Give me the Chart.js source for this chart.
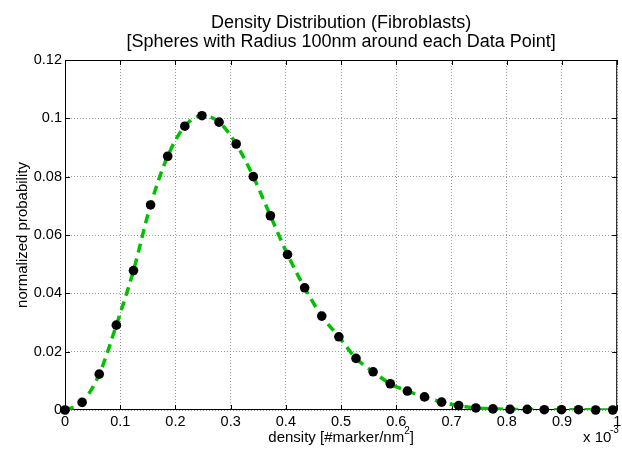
<!DOCTYPE html>
<html>
<head>
<meta charset="utf-8">
<script src="https://cdn.jsdelivr.net/npm/chart.js@4.4.1/dist/chart.umd.min.js"></script>
<style>
  html, body { margin: 0; padding: 0; background: #fff; }
  #wrap { width: 622px; height: 455px; }
</style>
</head>
<body>
<div id="wrap"><canvas id="densityChart" width="622" height="455"></canvas></div>
<script>
// density values, in units of 10^-3 #marker/nm^2
const densities = [0, 0.031, 0.062, 0.093, 0.124, 0.155, 0.186, 0.217, 0.248, 0.279,
    0.310, 0.341, 0.372, 0.403, 0.434, 0.465, 0.496, 0.527, 0.558, 0.589,
    0.620, 0.651, 0.682, 0.713, 0.744, 0.775, 0.806, 0.837, 0.868, 0.899,
    0.930, 0.961, 0.992];

// normalized probability for each density bin
const probabilities = [0, 0.0026, 0.0123, 0.0291, 0.0478, 0.0703, 0.0870, 0.0973, 0.1009, 0.0987,
    0.0912, 0.0800, 0.0666, 0.0533, 0.0419, 0.0322, 0.0251, 0.0177, 0.0131, 0.0090,
    0.0065, 0.0045, 0.0027, 0.0015, 0.0007, 0.0004, 0.0002, 0.0002, 0.0001, 0.0001,
    0.0001, 0, 0];

const xTicks = { min: 0, max: 1, step: 0.1 };
const yTicks = { min: 0, max: 0.12, step: 0.02 };

const titleLines = ['Density Distribution (Fibroblasts)', '[Spheres with Radius 100nm around each Data Point]'];
const xLabelParts = ['density [#marker/nm', '2', ']'];
const yLabel = 'normalized probability';

const points = densities.map((d, i) => ({ x: d, y: probabilities[i] }));

const FONT = '"Liberation Sans", Arial, Helvetica, sans-serif';

// MATLAB-like tick text: 0.1 not 0.10, 1 not 1.0
const plainTick = v => String(Number(v.toFixed(3)));

// box around the plot and inward tick marks
const axesBox = {
    id: 'axesBox',
    beforeDatasetsDraw(chart) {
        const { ctx, chartArea: a, scales: { x, y } } = chart;
        ctx.save();
        ctx.strokeStyle = '#000';
        ctx.lineWidth = 1;
        ctx.beginPath();
        x.ticks.forEach(t => {
            const px = Math.round(x.getPixelForValue(t.value)) + 0.5;
            ctx.moveTo(px, a.bottom); ctx.lineTo(px, a.bottom - 5);
            ctx.moveTo(px, a.top); ctx.lineTo(px, a.top + 5);
        });
        y.ticks.forEach(t => {
            const py = Math.round(y.getPixelForValue(t.value)) + 0.5;
            ctx.moveTo(a.left, py); ctx.lineTo(a.left + 5, py);
            ctx.moveTo(a.right, py); ctx.lineTo(a.right - 5, py);
        });
        ctx.stroke();
        ctx.strokeRect(a.left + 0.5, a.top + 0.5, a.width - 1, a.height - 1);
        ctx.restore();
    },
    afterDraw(chart) {
        const { ctx, chartArea: a } = chart;
        const cx = (a.left + a.right) / 2;
        ctx.save();
        ctx.fillStyle = '#000';
        ctx.textAlign = 'center';
        ctx.textBaseline = 'alphabetic';

        // title
        ctx.font = '18px ' + FONT;
        ctx.fillText(titleLines[0], cx, 28);
        ctx.fillText(titleLines[1], cx, 47);

        // x axis label with superscript
        const big = '15px ' + FONT, small = '10px ' + FONT;
        ctx.font = big;
        const w0 = ctx.measureText(xLabelParts[0]).width;
        const w2 = ctx.measureText(xLabelParts[2]).width;
        ctx.font = small;
        const w1 = ctx.measureText(xLabelParts[1]).width;
        let lx = cx - (w0 + w1 + w2) / 2;
        ctx.textAlign = 'left';
        ctx.font = big;
        ctx.fillText(xLabelParts[0], lx, 442);
        ctx.font = small;
        ctx.fillText(xLabelParts[1], lx + w0, 434);
        ctx.font = big;
        ctx.fillText(xLabelParts[2], lx + w0 + w1, 442);

        // exponent note
        ctx.fillText('x 10', 583, 442);
        ctx.font = small;
        ctx.fillText('-3', 610, 433);

        // y axis label
        ctx.font = big;
        ctx.textAlign = 'center';
        ctx.textBaseline = 'middle';
        ctx.translate(23, (a.top + a.bottom) / 2);
        ctx.rotate(-Math.PI / 2);
        ctx.fillText(yLabel, 0, 0);
        ctx.restore();
    }
};

const tickFont = { family: FONT, size: 14.5 };

new Chart(document.getElementById('densityChart'), {
    type: 'scatter',
    data: {
        datasets: [
            {
                label: 'data',
                data: points,
                pointRadius: 4.8,
                pointBackgroundColor: '#000',
                pointBorderWidth: 0,
                clip: false,
                order: 0
            },
            {
                label: 'fit',
                data: points,
                showLine: true,
                borderColor: '#00c000',
                borderWidth: 3.5,
                borderDash: [9, 6],
                cubicInterpolationMode: 'monotone',
                pointRadius: 0,
                fill: false,
                order: 1
            }
        ]
    },
    options: {
        responsive: false,
        animation: false,
        events: [],
        layout: { padding: { top: 60, right: 2, bottom: 0, left: 0 } },
        plugins: {
            legend: { display: false },
            tooltip: { enabled: false }
        },
        scales: {
            x: {
                type: 'linear',
                min: xTicks.min,
                max: xTicks.max,
                ticks: { stepSize: xTicks.step, color: '#000', font: tickFont, padding: 3, maxRotation: 0, callback: plainTick },
                grid: { color: '#999', drawTicks: false },
                border: { display: false, dash: [1, 2] },
                afterFit(s) { s.height = 45; s.paddingLeft = 0; s.paddingRight = 0; }
            },
            y: {
                type: 'linear',
                min: yTicks.min,
                max: yTicks.max,
                ticks: { stepSize: yTicks.step, color: '#000', font: tickFont, padding: 3, callback: plainTick },
                grid: { color: '#999', drawTicks: false },
                border: { display: false, dash: [1, 2] },
                afterFit(s) { s.width = 65; s.paddingTop = 0; s.paddingBottom = 0; }
            }
        }
    },
    plugins: [axesBox]
});
</script>
</body>
</html>
